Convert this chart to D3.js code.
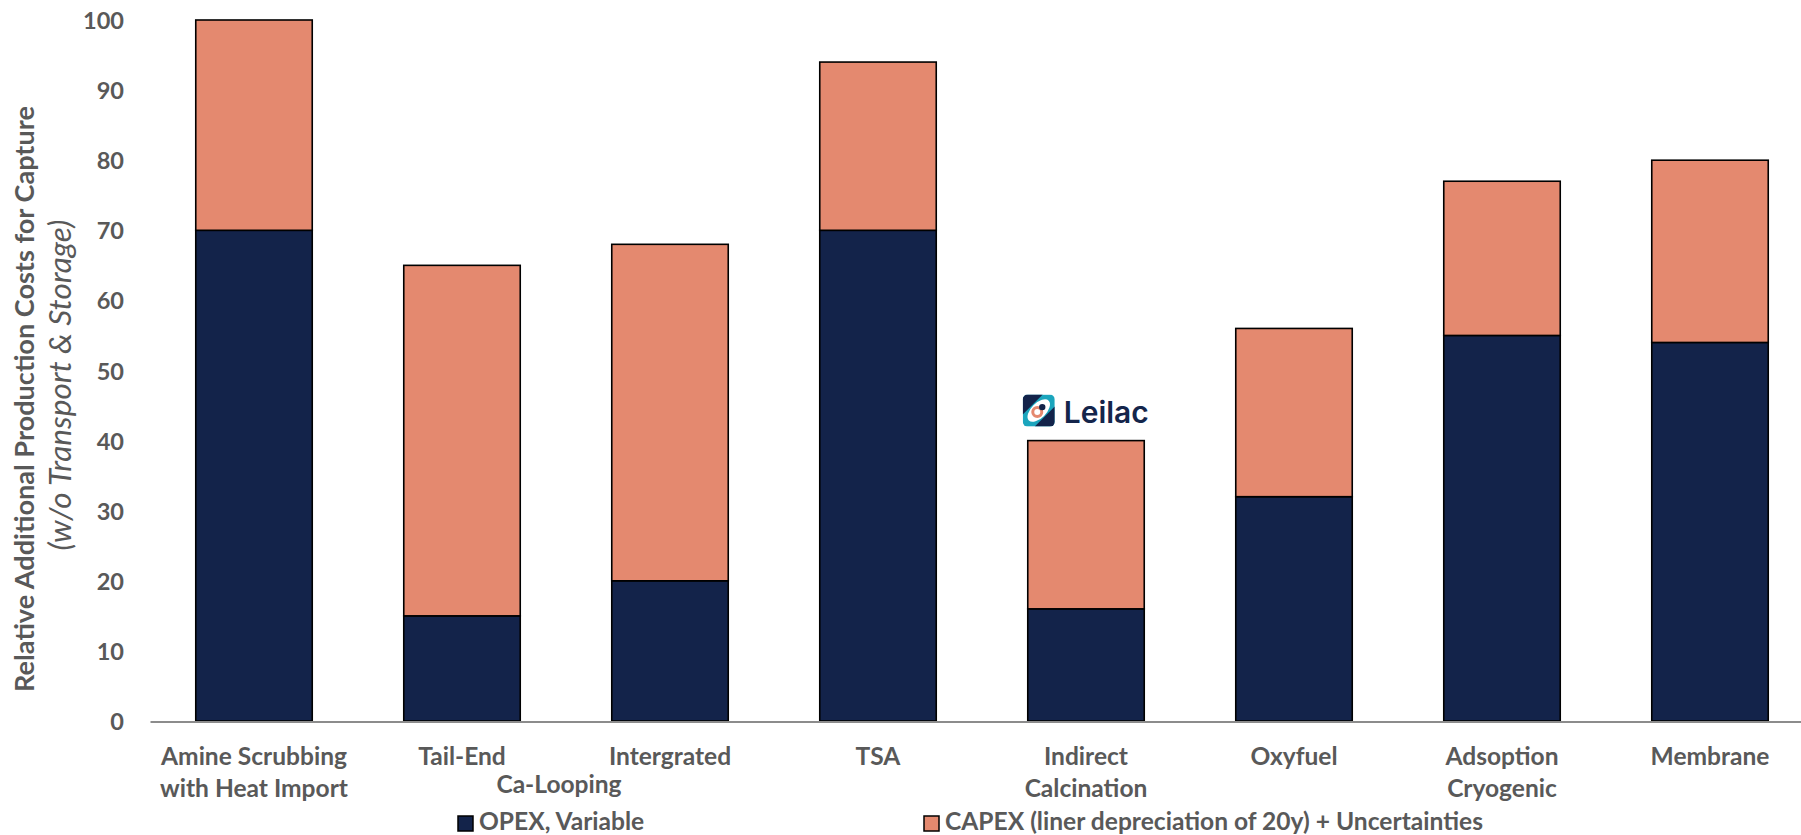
<!DOCTYPE html>
<html>
<head>
<meta charset="utf-8">
<script src="https://cdn.jsdelivr.net/npm/d3@7"></script>
<style>
  html, body { margin: 0; padding: 0; background: #fff; }
  svg { display: block; }
  text { font-family: Lato, "Open Sans", "Noto Sans", sans-serif; }
</style>
</head>
<body>
<svg id="chart" width="1801" height="835"></svg>
<script>
// ---------- data ----------
const categories = [
  ["Amine Scrubbing", "with Heat Import"],
  ["Tail-End"],
  ["Intergrated"],
  ["TSA"],
  ["Indirect", "Calcination"],
  ["Oxyfuel"],
  ["Adsoption", "Cryogenic"],
  ["Membrane"]
];
const opex  = [70, 15, 20, 70, 16, 32, 55, 54];
const capex = [30, 50, 48, 24, 24, 24, 22, 26];
const yTicks = [0, 10, 20, 30, 40, 50, 60, 70, 80, 90, 100];
const seriesNames = ["OPEX, Variable", "CAPEX (liner depreciation of 20y) + Uncertainties"];
const extraLabel = "Ca-Looping";
const yTitle = ["Relative Additional Production Costs for Capture", "(w/o Transport & Storage)"];
const logoText = "Leilac";

// ---------- styles ----------
const navy = "#13234A";
const salmon = "#E4896F";
const grey = "#595959";
const colors = [navy, salmon];

const svg = d3.select("#chart");
const plotLeft = 150, plotRight = 1814, plotTop = 20, plotBottom = 721;

const x = d3.scaleBand()
  .domain(d3.range(categories.length))
  .range([plotLeft, plotRight])
  .paddingInner(0.44)
  .paddingOuter(0.22);

const y = d3.scaleLinear().domain([0, 100]).range([plotBottom, plotTop]);

function fit(sel, target) {
  const base = 20;
  sel.style("font-size", base + "px");
  const w = sel.node().getComputedTextLength();
  const fs = base * target / w;
  sel.style("font-size", fs + "px");
  return fs;
}

// ---------- bars ----------
const table = categories.map((c, i) => ({ i, opex: opex[i], capex: capex[i] }));
const stack = d3.stack().keys(["opex", "capex"])(table);

svg.append("g").selectAll("g")
  .data(stack)
  .join("g")
  .attr("fill", (d, k) => colors[k])
  .selectAll("rect")
  .data(d => d)
  .join("rect")
  .attr("x", d => x(d.data.i))
  .attr("width", x.bandwidth())
  .attr("y", d => y(d[1]))
  .attr("height", d => y(d[0]) - y(d[1]))
  .attr("stroke", "#000")
  .attr("stroke-width", 1.6);

// ---------- x axis ----------
const gx = svg.append("g")
  .attr("transform", `translate(0,${plotBottom + 0.5})`)
  .call(d3.axisBottom(x).tickSize(0).tickFormat(""));
gx.select(".domain").attr("stroke", "#8c8c8c").attr("stroke-width", 2);

const probe = svg.append("text").attr("font-weight", 700).text(categories[0][0]);
const catFs = fit(probe, 186);
probe.remove();

const catG = svg.append("g");
categories.forEach((lines, i) => {
  const t = catG.append("text")
    .attr("text-anchor", "middle")
    .attr("font-weight", 700)
    .attr("fill", grey)
    .style("font-size", catFs + "px");
  lines.forEach((ln, j) => {
    t.append("tspan")
      .attr("x", x(i) + x.bandwidth() / 2)
      .attr("y", 765 + j * 32)
      .text(ln);
  });
});
catG.append("text")
  .attr("text-anchor", "middle")
  .attr("font-weight", 700)
  .attr("fill", grey)
  .style("font-size", catFs + "px")
  .attr("x", (x(1) + x(2) + x.bandwidth()) / 2 - 7)
  .attr("y", 793)
  .text(extraLabel);

// ---------- y axis ----------
const gy = svg.append("g")
  .attr("transform", `translate(${plotLeft},0)`)
  .call(d3.axisLeft(y).tickValues(yTicks).tickSize(0).tickPadding(26));
gy.select(".domain").remove();
gy.selectAll("text")
  .attr("fill", grey)
  .attr("font-weight", 700)
  .style("font-family", "Lato, 'Open Sans', sans-serif")
  .style("font-size", catFs * 0.96 + "px")
  .attr("dy", "0.36em");

// ---------- y title ----------
const yt = svg.append("g").attr("transform", "rotate(-90)");
const t1 = yt.append("text")
  .attr("x", -399).attr("y", 34)
  .attr("text-anchor", "middle")
  .attr("font-weight", 700)
  .attr("fill", grey)
  .text(yTitle[0]);
fit(t1, 586);
const t2 = yt.append("text")
  .attr("x", -385).attr("y", 71)
  .attr("text-anchor", "middle")
  .attr("font-style", "italic")
  .attr("font-weight", 400)
  .attr("fill", grey)
  .text(yTitle[1]);
fit(t2, 331);

// ---------- legend ----------
const leg = svg.append("g");
const legItems = [
  { name: seriesNames[0], color: colors[0], sx: 458, tx: 479 },
  { name: seriesNames[1], color: colors[1], sx: 924, tx: 945 }
];
let legFs = null;
legItems.forEach((d, k) => {
  leg.append("rect")
    .attr("x", d.sx).attr("y", 816)
    .attr("width", 15).attr("height", 15)
    .attr("fill", d.color)
    .attr("stroke", "#000").attr("stroke-width", 1.5);
  const t = leg.append("text")
    .attr("x", d.tx).attr("y", 830)
    .attr("font-weight", 700)
    .attr("fill", grey)
    .text(d.name);
  if (k === 1) legFs = fit(t, 538);
});
leg.selectAll("text").style("font-size", legFs + "px");

// ---------- Leilac logo ----------
const lx = x(4) - 5, ly = y(opex[4] + capex[4]) - 46;
const logo = svg.append("g").attr("transform", `translate(${lx},${ly})`);
const defs = svg.append("defs");
defs.append("clipPath").attr("id", "logoclip")
  .append("rect").attr("width", 32).attr("height", 32).attr("rx", 5);
const icon = logo.append("g").attr("clip-path", "url(#logoclip)");
icon.append("rect").attr("width", 32).attr("height", 32).attr("fill", "#1BA5BD");
icon.append("path").attr("d", "M0,0 H20 L0,20 Z").attr("fill", navy);
icon.append("path").attr("d", "M32,12 V32 H12 Z").attr("fill", navy);
icon.append("ellipse")
  .attr("cx", 16).attr("cy", 16).attr("rx", 14).attr("ry", 7.5)
  .attr("transform", "rotate(-45 16 16)")
  .attr("fill", "#fff");
icon.append("circle").attr("cx", 14.5).attr("cy", 17.5).attr("r", 4.5)
  .attr("fill", "none").attr("stroke", salmon).attr("stroke-width", 3);
icon.append("circle").attr("cx", 19.5).attr("cy", 12.5).attr("r", 3.2).attr("fill", navy);
const lt = logo.append("text")
  .attr("x", 41).attr("y", 28)
  .attr("fill", "#14254B")
  .attr("font-weight", 600)
  .style("font-family", "Inter, Lato, sans-serif")
  .text(logoText);
fit(lt, 85);
</script>
</body>
</html>
